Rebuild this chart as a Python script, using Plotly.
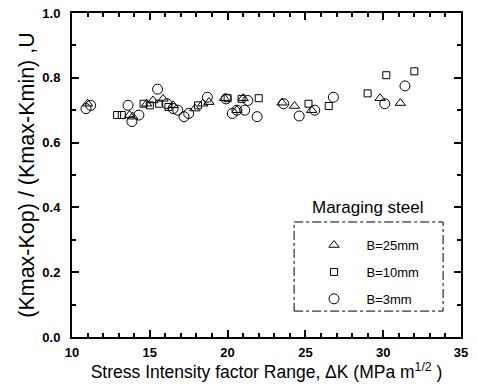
import plotly.graph_objects as go

# Crack-closure ratio U versus stress intensity factor range, maraging steel
dk_b25 = [11.0, 13.7, 13.9, 14.8, 15.2, 15.85, 16.5, 17.9, 18.4, 18.8, 19.8, 21.0, 20.6, 23.5, 24.3, 25.4, 29.8, 31.1]
u_b25 = [0.72, 0.685, 0.68, 0.72, 0.73, 0.735, 0.715, 0.705, 0.72, 0.725, 0.737, 0.737, 0.70, 0.723, 0.713, 0.70, 0.737, 0.722]

dk_b10 = [12.9, 13.2, 14.6, 15.0, 15.6, 16.2, 18.1, 20.0, 20.9, 22.0, 25.2, 26.5, 29.0, 30.2, 32.0]
u_b10 = [0.685, 0.685, 0.72, 0.715, 0.72, 0.71, 0.715, 0.737, 0.735, 0.737, 0.72, 0.713, 0.752, 0.808, 0.82]

dk_b3 = [10.9, 11.2, 13.6, 13.85, 14.3, 15.5, 16.1, 16.5, 16.8, 17.2, 17.5, 18.7, 19.9, 20.3, 20.6, 21.1, 21.3, 21.9, 23.6, 24.6, 25.6, 26.8, 30.1, 31.4]
u_b3 = [0.705, 0.715, 0.715, 0.665, 0.685, 0.765, 0.72, 0.705, 0.70, 0.68, 0.69, 0.74, 0.735, 0.69, 0.70, 0.70, 0.73, 0.68, 0.72, 0.682, 0.70, 0.74, 0.72, 0.775]

series = [
    ("B=25mm", dk_b25, u_b25, "triangle-up-open", 9),
    ("B=10mm", dk_b10, u_b10, "square-open", 7),
    ("B=3mm", dk_b3, u_b3, "circle-open", 10),
]

FONT = "Liberation Sans, Arial, sans-serif"

fig = go.Figure()
for name, xs, ys, sym, size in series:
    fig.add_trace(go.Scatter(
        x=xs, y=ys, mode="markers", name=name, legendgroup=name,
        marker=dict(symbol=sym, size=size, color="black", line=dict(color="black", width=1)),
    ))

frame = dict(
    showline=True, linecolor="black", linewidth=2, mirror="ticks",
    ticks="inside", ticklen=7, tickwidth=2, tickcolor="black",
    showgrid=False, zeroline=False,
    tickfont=dict(family=FONT, size=13, color="black", weight="bold"),
)

fig.update_xaxes(
    range=[10, 35], dtick=5, tick0=10,
    minor=dict(dtick=1, ticks="inside", ticklen=4, tickwidth=1.5, tickcolor="black", showgrid=False),
    ticklabelstandoff=2,
    title=dict(text="Stress Intensity factor Range, \u0394K (MPa m<sup>1/2</sup> )",
               font=dict(family=FONT, size=17.5, color="black"), standoff=2),
    **frame,
)
fig.update_yaxes(
    range=[0, 1.0], dtick=0.2, tick0=0, tickformat=".1f",
    minor=dict(dtick=0.1, ticks="inside", ticklen=4, tickwidth=1.5, tickcolor="black", showgrid=False),
    ticklabelstandoff=7,
    title=dict(text="(Kmax-Kop) / (Kmax-Kmin) ,U",
               font=dict(family=FONT, size=21.5, color="black"), standoff=2),
    **frame,
)

# dash-dot frame around the legend and its heading
fig.add_shape(type="rect", xref="paper", yref="paper",
              x0=0.571, x1=0.954, y0=0.080, y1=0.355,
              line=dict(color="black", width=1, dash="dashdot"), fillcolor="rgba(0,0,0,0)")
fig.add_annotation(text="Maraging steel", xref="paper", yref="paper",
                   x=0.761, y=0.401, xanchor="center", yanchor="middle", showarrow=False,
                   font=dict(family=FONT, size=17, color="black"))

fig.update_layout(
    template="none",
    width=477, height=384,
    margin=dict(l=72, r=16, t=13, b=47),
    paper_bgcolor="white", plot_bgcolor="white",
    showlegend=True,
    legend=dict(x=0.59, y=0.33, xanchor="left", yanchor="top", itemwidth=55,
                bgcolor="rgba(0,0,0,0)", borderwidth=0, tracegroupgap=7,
                font=dict(family=FONT, size=13, color="black")),
    font=dict(family=FONT, color="black"),
)

fig.write_html("out.html")
